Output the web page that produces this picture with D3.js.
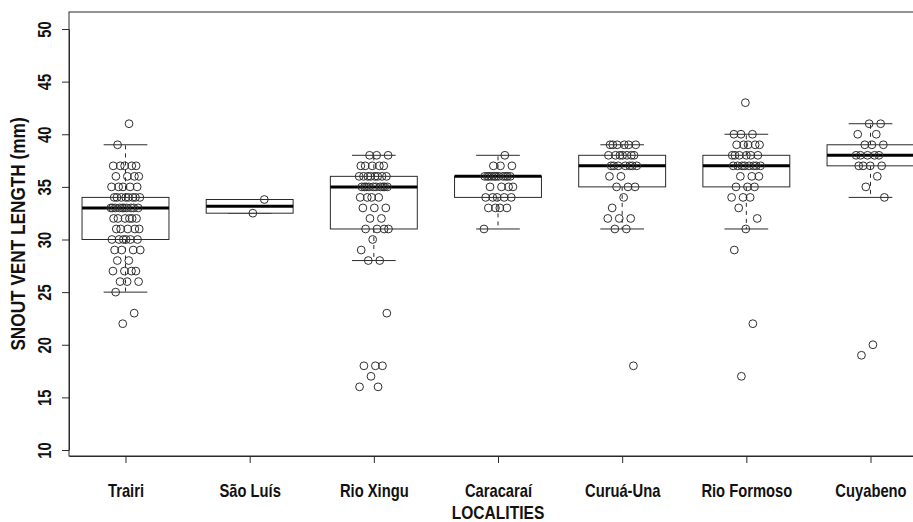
<!DOCTYPE html>
<html>
<head>
<meta charset="utf-8">
<script src="https://cdn.jsdelivr.net/npm/d3@7"></script>
<style>
body { margin: 0; background: #fff; }
svg text { font-family: "Liberation Sans", Arial, sans-serif; font-weight: bold; fill: #111; }
</style>
</head>
<body>
<div id="chart"></div>
<script>
// localities (x categories)
var localities = ["Trairi", "São Luís", "Rio Xingu", "Caracaraí", "Curuá-Una", "Rio Formoso", "Cuyabeno"];

// snout vent length (mm) per specimen
var trairi = [41, 39, 37, 37, 37, 37, 37, 36, 36, 36, 36, 35, 35, 35, 35, 35,
    34, 34, 34, 34, 34, 34, 34, 34, 33, 33, 33, 33, 33, 33, 33, 33, 33, 33,
    32, 32, 32, 32, 32, 32, 31, 31, 31, 31, 31, 30, 30, 30, 30, 30, 30,
    29, 29, 29, 29, 28, 28, 27, 27, 27, 27, 26, 26, 26, 25, 23, 22];
var saoLuis = [33.8, 32.5];
var rioXingu = [38, 38, 38, 37, 37, 37, 37, 37, 36, 36, 36, 36, 36, 36, 36, 36,
    35, 35, 35, 35, 35, 35, 35, 35, 35, 35, 34, 34, 34, 34, 33, 33, 33, 32, 32,
    31, 31, 31, 31, 30, 29, 28, 28, 23, 18, 18, 18, 17, 16, 16];
var caracarai = [38, 37, 37, 37, 36, 36, 36, 36, 36, 36, 36, 36, 36, 36, 36,
    35, 35, 35, 35, 34, 34, 34, 34, 34, 33, 33, 33, 33, 31];
var curuaUna = [39, 39, 39, 39, 39, 39, 38, 38, 38, 38, 38, 38, 38,
    37, 37, 37, 37, 37, 37, 37, 36, 36, 35, 35, 35, 34, 33, 32, 32, 32, 31, 31, 18];
var rioFormoso = [43, 40, 40, 40, 39, 39, 39, 39, 39, 38, 38, 38, 38, 38, 38,
    37, 37, 37, 37, 37, 37, 37, 37, 36, 36, 36, 35, 35, 35, 34, 34, 34, 33, 32, 31, 29, 22, 17];
var cuyabeno = [41, 41, 40, 40, 39, 39, 39, 38, 38, 38, 38, 38, 37, 37, 37, 37, 36, 35, 34, 20, 19];

var yTicks = [10, 15, 20, 25, 30, 35, 40, 45, 50];

var groups = [trairi, saoLuis, rioXingu, caracarai, curuaUna, rioFormoso, cuyabeno];

var svgWidth = 913;
var svgHeight = 522;

// plot region
var plotLeft = 69, plotRight = 927, plotTop = 12, plotBottom = 456;

// condensed look of the original type (no narrow font installed)
var squeeze = "scale(0.82,1)";

var svg = d3.select("#chart")
    .append("svg")
    .attr("width", svgWidth)
    .attr("height", svgHeight);

var xScale = d3.scalePoint()
    .domain(localities)
    .range([plotLeft, plotRight])
    .padding(0.455);

var yScale = d3.scaleLinear()
    .domain([10, 50])
    .range([450, 29]);

var step = xScale.step();
var boxHalf = step * 0.35;
var stapleHalf = step * 0.176;

// R style five number summary (Tukey hinges)
function fivenum(v) {
    var x = v.slice().sort(d3.ascending), n = x.length;
    var n4 = Math.floor((n + 3) / 2) / 2;
    var d = [1, n4, (n + 1) / 2, n + 1 - n4, n];
    return d.map(p => 0.5 * (x[Math.floor(p) - 1] + x[Math.ceil(p) - 1]));
}

var stats = groups.map(function (v, i) {
    var f = fivenum(v);
    var iqr = f[3] - f[1];
    var hi = d3.max(v.filter(d => d <= f[3] + 1.5 * iqr));
    var lo = d3.min(v.filter(d => d >= f[1] - 1.5 * iqr));
    return { name: localities[i], q1: f[1], med: f[2], q3: f[3], lo: lo, hi: hi };
});

var lineColor = "#2b2b2b";

// frame
svg.append("rect")
    .attr("x", plotLeft)
    .attr("y", plotTop)
    .attr("width", plotRight - plotLeft)
    .attr("height", plotBottom - plotTop)
    .attr("fill", "none")
    .attr("stroke", lineColor)
    .attr("stroke-width", 1);

// boxes
var boxG = svg.append("g");
var box = boxG.selectAll("g")
    .data(stats)
    .enter()
    .append("g")
    .attr("transform", d => `translate(${xScale(d.name)},0)`);

box.append("line")
    .attr("y1", d => yScale(d.q3)).attr("y2", d => yScale(d.hi))
    .attr("stroke", lineColor).attr("stroke-dasharray", "4,4");
box.append("line")
    .attr("y1", d => yScale(d.q1)).attr("y2", d => yScale(d.lo))
    .attr("stroke", lineColor).attr("stroke-dasharray", "4,4");
box.append("line")
    .attr("x1", -stapleHalf).attr("x2", stapleHalf)
    .attr("y1", d => yScale(d.hi)).attr("y2", d => yScale(d.hi))
    .attr("stroke", lineColor);
box.append("line")
    .attr("x1", -stapleHalf).attr("x2", stapleHalf)
    .attr("y1", d => yScale(d.lo)).attr("y2", d => yScale(d.lo))
    .attr("stroke", lineColor);
box.append("rect")
    .attr("x", -boxHalf)
    .attr("width", boxHalf * 2)
    .attr("y", d => yScale(d.q3))
    .attr("height", d => yScale(d.q1) - yScale(d.q3))
    .attr("fill", "#fff")
    .attr("stroke", lineColor);
box.append("line")
    .attr("x1", -boxHalf).attr("x2", boxHalf)
    .attr("y1", d => yScale(d.med)).attr("y2", d => yScale(d.med))
    .attr("stroke", "#000").attr("stroke-width", 3);

// jittered points (deterministic spread)
var points = [];
groups.forEach(function (v, g) {
    v.forEach(function (val, k) {
        var u = ((k + 1) * 0.6180339 + g * 0.37) % 1;
        points.push({ name: localities[g], value: val, dx: (u - 0.5) * 30 });
    });
});

svg.append("g")
    .selectAll("circle")
    .data(points)
    .enter()
    .append("circle")
    .attr("cx", d => xScale(d.name) + d.dx)
    .attr("cy", d => yScale(d.value))
    .attr("r", 3.9)
    .attr("fill", "none")
    .attr("stroke", "#2f2f2f")
    .attr("stroke-width", 1);

// y axis
var leftAxis = d3.axisLeft(yScale).tickValues(yTicks).tickSize(7).tickSizeOuter(0);
var yAxis = svg.append("g")
    .attr("transform", `translate(${plotLeft},0)`)
    .call(leftAxis);
yAxis.attr("font-family", null).attr("font-size", null);
yAxis.select(".domain").attr("stroke", lineColor);
yAxis.selectAll(".tick line").attr("stroke", lineColor);
yAxis.selectAll(".tick text")
    .attr("x", 0)
    .attr("dy", "0.35em")
    .attr("transform", "translate(-24,0) rotate(-90) " + squeeze)
    .attr("text-anchor", "middle")
    .style("font-size", "18px");

// x axis
var bottomAxis = d3.axisBottom(xScale).tickSize(7).tickSizeOuter(0);
var xAxis = svg.append("g")
    .attr("transform", `translate(0,${plotBottom})`)
    .call(bottomAxis);
xAxis.attr("font-family", null).attr("font-size", null);
xAxis.select(".domain").attr("stroke", lineColor);
xAxis.selectAll(".tick line").attr("stroke", lineColor);
xAxis.selectAll(".tick text")
    .attr("y", 41)
    .attr("dy", 0)
    .attr("transform", squeeze)
    .style("font-size", "18px");

// axis titles
svg.append("text")
    .attr("transform", `translate(18,${(plotTop + plotBottom) / 2}) rotate(-90) ${squeeze}`)
    .attr("dy", "0.35em")
    .attr("text-anchor", "middle")
    .style("font-size", "21px")
    .text("SNOUT VENT LENGTH (mm)");

svg.append("text")
    .attr("transform", `translate(${(plotLeft + plotRight) / 2},518.5) ${squeeze}`)
    .attr("text-anchor", "middle")
    .style("font-size", "19px")
    .text("LOCALITIES");
</script>
</body>
</html>
